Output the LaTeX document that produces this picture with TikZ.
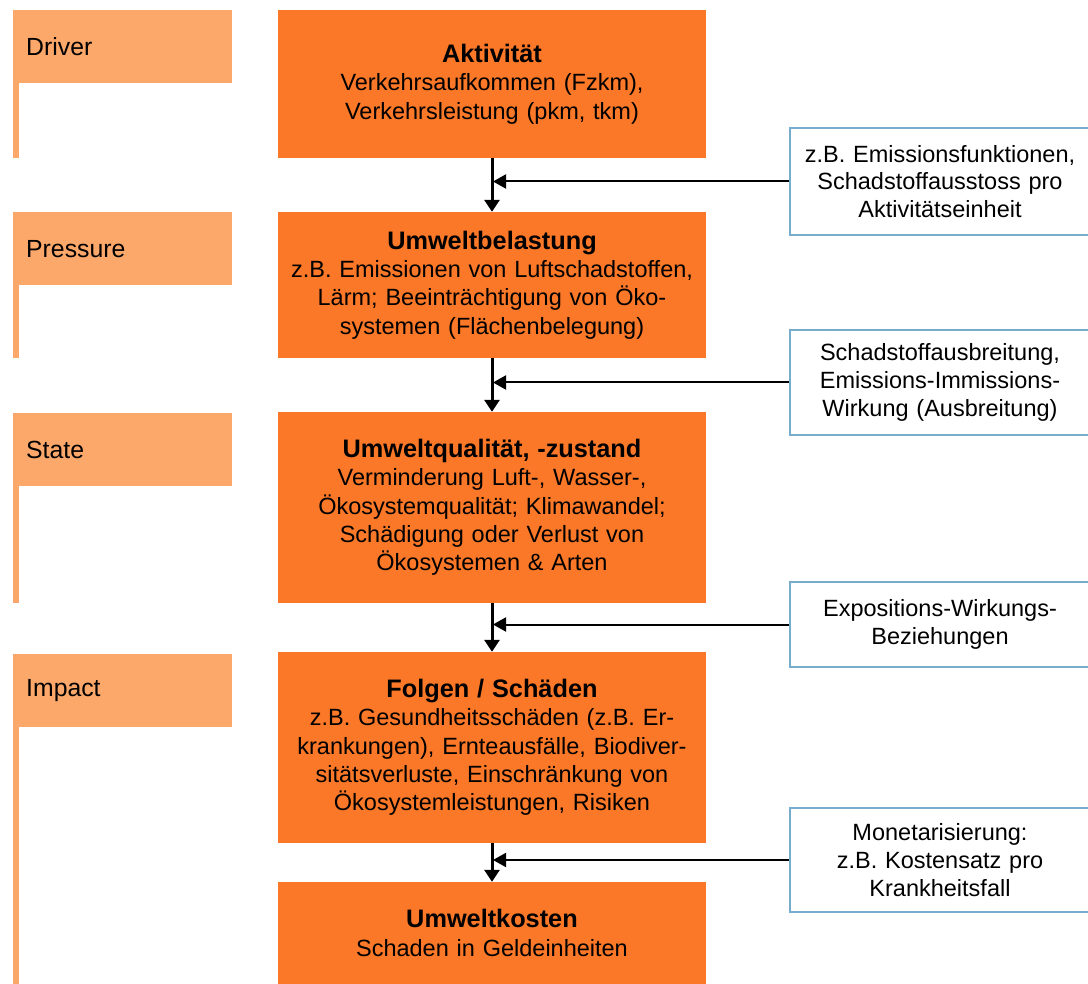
\documentclass[tikz,border=0pt]{standalone}
\usepackage{fontspec}
\setmainfont{Liberation Sans}
\usetikzlibrary{arrows.meta,positioning}
\definecolor{dpsorange}{RGB}{250,120,40}
\definecolor{dpslight}{RGB}{252,168,106}
\definecolor{dpsblue}{RGB}{120,172,204}
\newcommand{\stagetitle}[1]{{\fontsize{25.3}{29}\selectfont\bfseries #1}}

\begin{document}
\begin{tikzpicture}[x=1pt, y=-1pt,
    font=\fontsize{23.5}{28.3}\selectfont,
    stage/.style={rectangle, fill=dpsorange, minimum width=428pt, text width=424pt, align=center, inner sep=0pt},
    phase/.style={rectangle, fill=dpslight, minimum width=219pt, minimum height=73pt, text width=193pt, inner xsep=13pt, align=left, anchor=north west, font=\fontsize{24.8}{28}\selectfont},
    method/.style={rectangle, draw=dpsblue, line width=2.5pt, fill=white, minimum width=300pt, text width=292pt, align=center, inner sep=0pt, font=\fontsize{23.5}{27.6}\selectfont},
    flow/.style={-{Triangle[length=12pt,width=15pt]}, line width=3pt},
    feed/.style={-{Triangle[length=13pt,width=14pt]}, line width=2pt, shorten >=1pt}]
    \useasboundingbox (0,0) rectangle (1088,984);

    % DPSIR phases
    \node[phase] (drv) at (13,10) {Driver};
    \node[phase] (prs) at (13,212) {Pressure};
    \node[phase] (sta) at (13,413) {State};
    \node[phase] (imp) at (13,654) {Impact};

    % chain of effects
    \node[stage, minimum height=148pt] (akt) at (492,84)
      {\stagetitle{Aktivität}\\Verkehrsaufkommen (Fzkm),\\Verkehrsleistung (pkm, tkm)};
    \node[stage, minimum height=146pt] (bel) at (492,285)
      {\stagetitle{Umweltbelastung}\\z.B. Emissionen von Luftschadstoffen,\\Lärm; Beeinträchtigung von Öko-\\systemen (Flächenbelegung)};
    \node[stage, minimum height=191pt] (qual) at (492,507.5)
      {\stagetitle{Umweltqualität, -zustand}\\Verminderung Luft-, Wasser-,\\Ökosystemqualität; Klimawandel;\\Schädigung oder Verlust von\\Ökosystemen \& Arten};
    \node[stage, minimum height=191pt] (folg) at (492,747.5)
      {\stagetitle{Folgen / Schäden}\\z.B. Gesundheitsschäden (z.B. Er-\\krankungen), Ernteausfälle, Biodiver-\\sitätsverluste, Einschränkung von\\Ökosystemleistungen, Risiken};
    \node[stage, minimum height=102pt] (kost) at (492,933)
      {\stagetitle{Umweltkosten}\\Schaden in Geldeinheiten};

    % methods
    \node[method, minimum height=107pt] (emf) at (940,181.5)
      {z.B. Emissionsfunktionen,\\Schadstoffausstoss pro\\Aktivitätseinheit};
    \node[method, minimum height=105pt] (ausb) at (940,382.5)
      {Schadstoffausbreitung,\\Emissions-Immissions-\\Wirkung (Ausbreitung)};
    \node[method, minimum height=85pt] (expw) at (940,624.5)
      {Expositions-Wirkungs-\\Beziehungen};
    \node[method, minimum height=104pt] (mon) at (940,860)
      {Monetarisierung:\\z.B. Kostensatz pro\\Krankheitsfall};

    \foreach \p/\s in {drv/akt, prs/bel, sta/qual, imp/kost}
      \fill[dpslight] (\p.south west) rectangle ([xshift=6pt]\p.west |- \s.south);
    \foreach \a/\b in {akt/bel, bel/qual, qual/folg, folg/kost}
      \draw[flow] (\a.south) -- (\b.north);
    \foreach \m/\a in {emf/akt, ausb/bel, expw/qual, mon/folg}
      \draw[feed] (\m.west) -- (\m.west -| \a.south);
\end{tikzpicture}
\end{document}
